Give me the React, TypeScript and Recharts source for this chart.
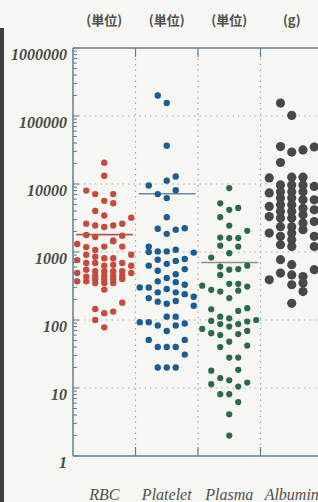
import { ScatterChart, Scatter, XAxis, YAxis, ReferenceLine } from "recharts";

const CATEGORIES = ["RBC", "Platelet", "Plasma", "Albumin"];
const UNITS = ["(単位)", "(単位)", "(単位)", "(g)"];
const Y_MAJOR = [1, 10, 100, 1000, 10000, 100000, 1000000];
const Y_MINOR_STEPS = [2, 3, 4, 5, 6, 7, 8, 9];

// each point: [lane within the swarm, value]
const RBC: [number, number][] = [
  [0, 20500], [0, 13200], [-2, 8000], [-1, 7100], [1, 7100], [0, 5650], [1, 5200], [-1, 4000],
  [0, 3450], [3, 3200], [-2, 2600], [-1, 2450], [0, 2330], [1, 2450], [2, 2600],
  [-2, 1780], [-1, 1660], [1, 1480], [2, 1730],
  [-3, 1310], [-2, 1180], [-1, 1070], [0, 1200], [1, 1440], [2, 1200], [3, 910],
  [-3, 760], [-2, 910], [-2, 690], [-1, 850], [-1, 690], [0, 810], [0, 630], [1, 810], [1, 650], [2, 690], [3, 630],
  [-3, 490], [-3, 370], [-2, 550], [-2, 435], [-2, 370], [-1, 520], [-1, 450], [-1, 400], [-1, 350],
  [0, 520], [0, 450], [0, 400], [0, 350], [1, 520], [1, 450], [1, 400], [1, 350],
  [2, 520], [2, 450], [2, 400], [3, 490],
  [0, 280], [2, 180], [-1, 145], [0, 126], [1, 133], [-1, 100], [0, 78],
];
const PLATELET: [number, number][] = [
  [-1, 200000], [0, 155000], [0, 36500], [-2, 9500], [0, 11200], [1, 12900], [-1, 7100], [1, 8100], [0, 6200],
  [0, 3250], [-1, 2200], [0, 1850], [1, 2130], [2, 2240],
  [-2, 1200], [-2, 1000], [-1, 1020], [0, 1020], [1, 1080], [3, 980],
  [-1, 770], [1, 740], [2, 790], [-2, 630], [0, 670], [2, 560], [-1, 530], [1, 470],
  [-3, 300], [-1, 370], [0, 415], [1, 360], [-2, 300], [2, 330],
  [-1, 255], [0, 285], [1, 255], [-2, 210], [2, 240], [3, 220],
  [-1, 186], [0, 173], [1, 190], [3, 162],
  [-3, 93], [-2, 93], [-1, 83], [0, 69], [0, 112], [1, 112], [1, 83], [2, 89],
  [-2, 51], [-1, 40], [0, 40], [1, 40], [2, 51], [2, 31],
  [-1, 20], [0, 20], [1, 20],
];
const PLASMA: [number, number][] = [
  [0, 8700], [-1, 5200], [0, 4170], [1, 4450], [-1, 3250], [0, 2450], [2, 2050], [-1, 1630], [0, 1600], [1, 1600],
  [-1, 1240], [1, 1200], [0, 960], [-2, 830],
  [-1, 610], [0, 550], [1, 560], [2, 630], [-1, 460],
  [-3, 320], [-2, 278], [-1, 262], [0, 340], [1, 340], [1, 270], [2, 310], [0, 210],
  [-2, 144], [1, 136], [2, 149], [-1, 112], [0, 106], [-2, 97], [2, 95], [3, 100], [-1, 87], [0, 80], [1, 87],
  [-3, 74], [-2, 64], [-1, 60], [1, 62], [2, 69], [0, 48], [-1, 40], [2, 42], [0, 28], [1, 28],
  [-2, 18], [1, 18.5], [-1, 14], [0, 13], [-2, 11.4], [1, 10.5], [2, 12], [-1, 8.1], [0, 8.1], [1, 6.2], [0, 4.1], [0, 2],
];
const ALBUMIN: [number, number][] = [
  [-1, 155000], [0, 102000], [-1, 35500], [0, 29500], [1, 31700], [2, 35000], [-1, 20700],
  [-2, 12300], [-2, 7400], [-2, 4680], [-2, 3320], [-2, 1900],
  [-1, 9700], [-1, 7700], [-1, 6200], [-1, 4950], [-1, 3950], [-1, 3150], [-1, 2360], [-1, 1700], [-1, 1280],
  [0, 12600], [0, 9700], [0, 7700], [0, 6200], [0, 4950], [0, 3950], [0, 3150], [0, 2360], [0, 1900], [0, 1510], [0, 1200],
  [1, 12600], [1, 9700], [1, 7700], [1, 5850], [1, 4400], [1, 3530], [1, 2660], [1, 2130],
  [2, 9200], [2, 5850], [2, 4170], [2, 2800], [2, 1700], [2, 1200],
  [-1, 770], [-1, 490], [0, 650], [0, 460], [0, 330], [1, 435], [1, 350], [1, 262], [-2, 390], [2, 550], [0, 176],
];
const MEDIANS = [1800, 7200, 700];

const AXIS = "#5f7f95";
const GRID = "#a8adae";
const SERIF = "'Liberation Serif', 'DejaVu Serif', serif";

const SERIES = [
  { name: "RBC", pts: RBC, color: "#c64a3d", lane: 0.144, r: 3.2 },
  { name: "Platelet", pts: PLATELET, color: "#1c5b93", lane: 0.144, r: 3.2 },
  { name: "Plasma", pts: PLASMA, color: "#2b684d", lane: 0.144, r: 3.1 },
  { name: "Albumin", pts: ALBUMIN, color: "#484848", lane: 0.18, r: 4.6 },
];
const MEDIAN_COLORS = ["#b8574c", "#70849a", "#8c918e"];

const yTicks: number[] = [];
Y_MAJOR.forEach((d, i) => {
  yTicks.push(d);
  if (i < Y_MAJOR.length - 1) Y_MINOR_STEPS.forEach((m) => yTicks.push(m * d));
});

const YTick = (props: any) => {
  const { x, y, payload } = props;
  const major = Y_MAJOR.includes(payload.value);
  return (
    <g>
      <line x1={x} x2={x + (major ? 6 : 4)} y1={y} y2={y} stroke={AXIS} strokeWidth={1} />
      {major && (
        <text x={x - 6} y={y} dy={12} textAnchor="end" fontFamily={SERIF} fontStyle="italic" fontWeight="bold" fontSize={16} fill="#4a4a4a">
          {payload.value}
        </text>
      )}
    </g>
  );
};

// category name under the plot, unit header above it (plot is 408px tall)
const CatTick = (props: any) => {
  const { x, y, payload } = props;
  const i = Math.floor(payload.value);
  return (
    <g>
      <text x={x} y={y} dy={44} textAnchor="middle" fontFamily={SERIF} fontStyle="italic" fontSize={16} fill="#505050">
        {CATEGORIES[i]}
      </text>
      <text x={x} y={y} dy={-431} textAnchor="middle" fontFamily="'Noto Sans CJK JP', 'Noto Sans', sans-serif" fontWeight="bold" fontSize={13} fill="#505050">
        {UNITS[i]}
      </text>
    </g>
  );
};

export default function App() {
  return (
    <div style={{ position: "relative", width: 318, height: 502, overflow: "hidden", background: "#f6f6f2" }}>
      <style>{`body{margin:0}`}</style>
      <div style={{ position: "absolute", left: 0, top: 28, width: 4, height: 474, background: "#3e3e3e" }} />
      <ScatterChart width={323} height={502} margin={{ top: 48, right: 0, bottom: 0, left: 0 }}>
        <XAxis
          dataKey="x"
          type="number"
          domain={[0, 4]}
          ticks={[0.5, 1.5, 2.5, 3.5]}
          height={46}
          tickSize={0}
          tickMargin={0}
          tick={<CatTick />}
          axisLine={{ stroke: AXIS, strokeWidth: 1.5 }}
          interval={0}
        />
        <YAxis
          dataKey="y"
          type="number"
          scale="log"
          domain={[1, 1000000]}
          ticks={yTicks}
          interval={0}
          width={73}
          tickSize={0}
          tickMargin={0}
          tick={<YTick />}
          axisLine={{ stroke: AXIS, strokeWidth: 1.5 }}
          allowDataOverflow
        />
        <ReferenceLine y={1000000} stroke={AXIS} strokeWidth={1.5} />
        {Y_MAJOR.slice(1, -1).map((v) => (
          <ReferenceLine key={"h" + v} y={v} stroke={GRID} strokeDasharray="1.5 4" strokeWidth={1.2} />
        ))}
        {[1, 2, 3].map((v) => (
          <ReferenceLine key={"v" + v} x={v} stroke={GRID} strokeDasharray="1.5 4" strokeWidth={1.2} />
        ))}
        {[1, 2, 3].map((v) => (
          <ReferenceLine key={"tb" + v} segment={[{ x: v, y: 1 }, { x: v, y: 1.35 }]} stroke={AXIS} strokeWidth={1.2} />
        ))}
        {[1, 2, 3].map((v) => (
          <ReferenceLine key={"tt" + v} segment={[{ x: v, y: 1000000 }, { x: v, y: 740000 }]} stroke={AXIS} strokeWidth={1.2} />
        ))}
        {SERIES.map((s, ci) => (
          <Scatter
            key={s.name}
            name={s.name}
            data={s.pts.map(([lane, v]) => ({ x: ci + 0.5 + lane * s.lane, y: v }))}
            isAnimationActive={false}
            shape={(p: any) => <circle cx={p.cx} cy={p.cy} r={s.r} fill={s.color} />}
          />
        ))}
        {MEDIANS.map((m, i) => (
          <ReferenceLine
            key={"m" + i}
            segment={[{ x: i + 0.05, y: m }, { x: i + 0.96, y: m }]}
            stroke={MEDIAN_COLORS[i]}
            strokeWidth={1.6}
          />
        ))}
      </ScatterChart>
    </div>
  );
}
